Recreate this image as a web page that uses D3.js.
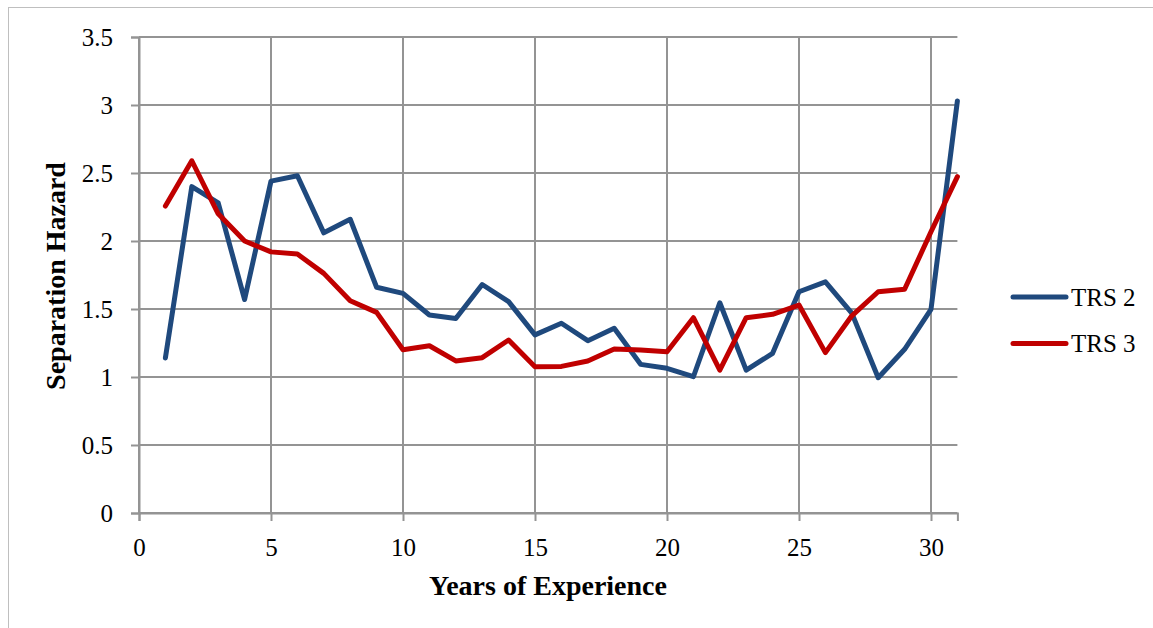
<!DOCTYPE html>
<html><head><meta charset="utf-8">
<script src="https://cdn.jsdelivr.net/npm/d3@7"></script>
<style>body{margin:0;background:#fff}svg{display:block}</style>
</head><body>
<svg id="c" width="1153" height="628"></svg>
<script>
const years = d3.range(1, 32);
const trs2 = [1.14,2.40,2.28,1.57,2.44,2.48,2.06,2.16,1.66,1.615,1.456,1.43,1.68,1.554,1.31,1.395,1.267,1.358,1.093,1.064,1.002,1.546,1.05,1.174,1.627,1.70,1.47,0.995,1.204,1.498,3.03];
const trs3 = [2.257,2.59,2.20,2.0,1.92,1.904,1.762,1.561,1.475,1.20,1.23,1.118,1.142,1.272,1.076,1.078,1.118,1.206,1.199,1.186,1.436,1.05,1.436,1.461,1.529,1.179,1.45,1.627,1.645,2.068,2.473];
const seriesNames = ["TRS 2","TRS 3"];
const seriesColors = ["#1F497D","#C00000"];
const xTicks = [0,5,10,15,20,25,30];
const yTicks = [0,0.5,1,1.5,2,2.5,3,3.5];

const svg = d3.select("#c");
const serif = "'Liberation Serif','DejaVu Serif',serif";
// outer frame
svg.append("rect").attr("x",8.5).attr("y",7.5).attr("width",1160).attr("height",640)
  .attr("fill","none").attr("stroke","#bfbfbf").attr("stroke-width",1);

const x = d3.scaleLinear().domain([0,31]).range([139,957.4]);
const y = d3.scaleLinear().domain([0,3.5]).range([513,37]);
const grid = "#949494";

const g = svg.append("g");
g.selectAll(".hg").data(yTicks).enter().append("line")
  .attr("x1",x(0)).attr("x2",x(31)).attr("y1",d=>y(d)).attr("y2",d=>y(d))
  .attr("stroke",grid).attr("stroke-width",2);
g.selectAll(".vg").data(xTicks).enter().append("line")
  .attr("x1",d=>x(d)).attr("x2",d=>x(d)).attr("y1",y(3.5)).attr("y2",y(0))
  .attr("stroke",grid).attr("stroke-width",2);

const xAxis = d3.axisBottom(x).tickValues(xTicks).tickSize(8).tickPadding(17).tickFormat(d3.format("d"));
const yAxis = d3.axisLeft(y).tickValues(yTicks).tickSize(8).tickPadding(18).tickFormat(d=>String(d));
const xa = svg.append("g").attr("transform",`translate(0,${y(0)})`).call(xAxis);
const ya = svg.append("g").attr("transform",`translate(${x(0)},0)`).call(yAxis);
[xa,ya].forEach(a=>{
  a.attr("font-family",serif).attr("font-size",25);
  a.select(".domain").attr("stroke",grid).attr("stroke-width",2);
  a.selectAll(".tick line").attr("stroke",grid).attr("stroke-width",2);
  a.selectAll("text").style("font-family",serif).style("font-size","25px").attr("fill","#000");
});
ya.selectAll("text").attr("dy","0.35em");

const data = [trs2, trs3];
const line = d3.line().x((d,i)=>x(years[i])).y(d=>y(d));
svg.selectAll(".ser").data(data).enter().append("path")
  .attr("d",line).attr("fill","none")
  .attr("stroke",(d,i)=>seriesColors[i]).attr("stroke-width",5)
  .attr("stroke-linejoin","round").attr("stroke-linecap","round");

svg.append("text").attr("x",548).attr("y",595).attr("text-anchor","middle")
  .style("font-family",serif).attr("font-weight","bold").style("font-size","28px")
  .text("Years of Experience");
svg.append("text").attr("transform","translate(65,276) rotate(-90)").attr("text-anchor","middle")
  .style("font-family",serif).attr("font-weight","bold").style("font-size","28px")
  .text("Separation Hazard");

const lg = svg.append("g");
seriesNames.forEach((n,i)=>{
  const yy = 297 + i*46.5;
  lg.append("line").attr("x1",1013).attr("x2",1066).attr("y1",yy).attr("y2",yy)
    .attr("stroke",seriesColors[i]).attr("stroke-width",5).attr("stroke-linecap","round");
  lg.append("text").attr("x",1071).attr("y",yy).attr("dy","0.35em")
    .style("font-family",serif).style("font-size","25px").text(n);
});
</script>
</body></html>
